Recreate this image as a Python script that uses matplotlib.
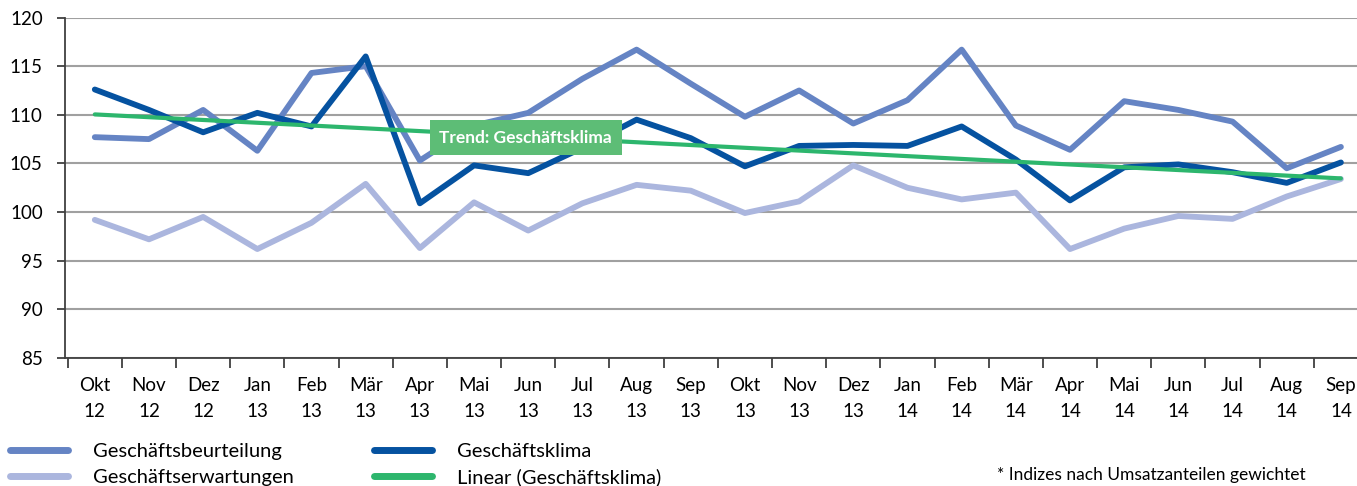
import matplotlib.pyplot as plt
import numpy as np

months = ["Okt\n12", "Nov\n12", "Dez\n12", "Jan\n13", "Feb\n13", "Mär\n13", "Apr\n13", "Mai\n13",
          "Jun\n13", "Jul\n13", "Aug\n13", "Sep\n13", "Okt\n13", "Nov\n13", "Dez\n13", "Jan\n14",
          "Feb\n14", "Mär\n14", "Apr\n14", "Mai\n14", "Jun\n14", "Jul\n14", "Aug\n14", "Sep\n14"]

beurteilung = [107.7, 107.5, 110.5, 106.3, 114.3, 115.0, 105.3, 108.9, 110.2, 113.7, 116.7, 113.2,
               109.8, 112.5, 109.1, 111.5, 116.7, 108.9, 106.4, 111.4, 110.5, 109.3, 104.5, 106.7]
erwartungen = [99.2, 97.2, 99.5, 96.2, 98.9, 102.9, 96.3, 101.0, 98.1, 100.9, 102.8, 102.2,
               99.9, 101.1, 104.8, 102.5, 101.3, 102.0, 96.2, 98.3, 99.6, 99.3, 101.6, 103.4]
klima = [112.6, 110.5, 108.2, 110.2, 108.8, 116.0, 100.9, 104.8, 104.0, 106.6, 109.5, 107.6,
         104.7, 106.8, 106.9, 106.8, 108.8, 105.4, 101.2, 104.6, 104.9, 104.1, 103.0, 105.1]

plt.rcParams['font.family'] = ['Lato', 'DejaVu Sans']

fig = plt.figure(figsize=(13.57, 4.86), dpi=100)
ax = fig.add_axes([65 / 1357, 1 - 358 / 486, 1303 / 1357, 340.5 / 486])

x = np.arange(len(months))
# linear trend of Geschäftsklima
slope, icpt = np.polyfit(x, klima, 1)
trend = slope * x + icpt

c_beur = "#6584c4"
c_erw = "#abb6de"
c_klima = "#0552a0"
c_trend = "#2db66d"

ax.plot(x, beurteilung, color=c_beur, lw=4.2, solid_capstyle="round", label="Geschäftsbeurteilung", zorder=3)
ax.plot(x, erwartungen, color=c_erw, lw=4.2, solid_capstyle="round", label="Geschäftserwartungen", zorder=3)
ax.plot(x, klima, color=c_klima, lw=4.2, solid_capstyle="round", label="Geschäftsklima", zorder=4)
ax.plot(x, trend, color=c_trend, lw=3, solid_capstyle="round", label="Linear (Geschäftsklima)", zorder=5)

ax.set_ylim(85, 120)
ax.set_xlim(-0.55, 23.5)
ax.set_yticks(range(85, 121, 5))
ax.yaxis.grid(True, color="#a0a0a0", lw=1.5)
ax.set_axisbelow(True)
ax.set_xticks(x)
ax.set_xticklabels(months, fontsize=13.5, linespacing=1.6)
ax.set_xticks(np.arange(-0.5, 24, 1), minor=True)
ax.tick_params(axis="x", which="major", length=0, pad=14)
ax.tick_params(axis="x", which="minor", length=7, width=1.3, color="#404040", direction="out")
ax.tick_params(axis="y", length=6, width=1.3, color="#404040", labelsize=13.5, pad=10)
for s in ["top", "right"]:
    ax.spines[s].set_visible(False)
ax.spines["left"].set_color("#404040")
ax.spines["bottom"].set_color("#404040")
ax.spines["left"].set_linewidth(1.3)
ax.spines["bottom"].set_linewidth(1.3)

ax.text(6.36, 107.64, "Trend: Geschäftsklima", color="white", fontsize=12.5, fontweight="bold",
        va="center", ha="left", zorder=6,
        bbox=dict(boxstyle="square,pad=0.55", fc="#5dbd76", ec="none"))

leg = fig.legend(loc="upper left", bbox_to_anchor=(10 / 1357, 1 - 443 / 486), ncol=2, frameon=False,
                 fontsize=14.5, handlelength=2.9, handletextpad=1.2, columnspacing=4.0,
                 labelspacing=0.42, borderpad=0, borderaxespad=0, bbox_transform=fig.transFigure)
for h in leg.get_lines():
    h.set_linewidth(5)

fig.text(997 / 1357, 1 - 467 / 486, "* Indizes nach Umsatzanteilen gewichtet", fontsize=12.5, va="top")

fig.savefig("out.png", dpi=100)
